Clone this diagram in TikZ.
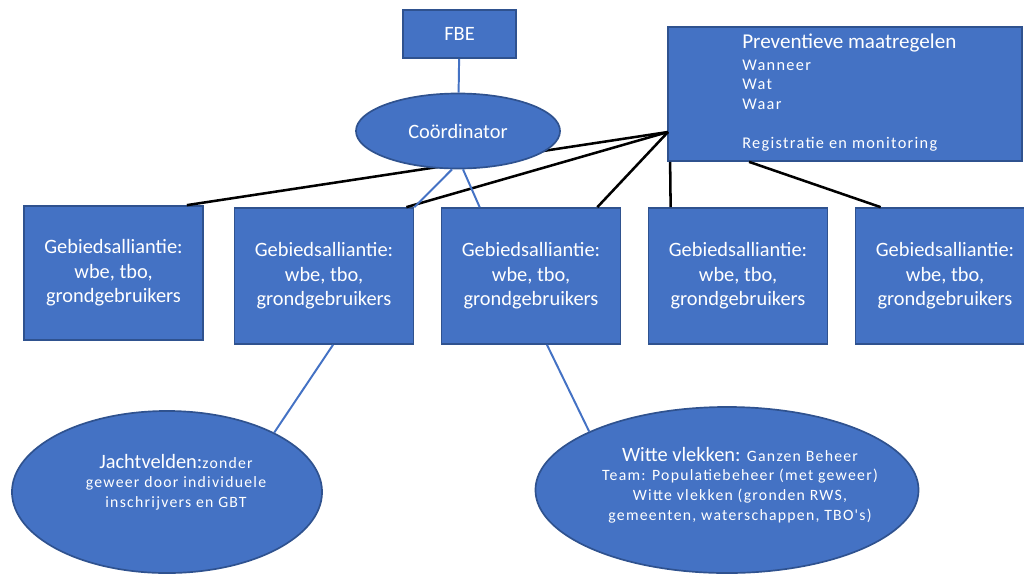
\documentclass[tikz,border=0pt]{standalone}
\usepackage{fontspec}
\setmainfont{Carlito}
\newfontfamily\spacedfont[LetterSpace=8]{Carlito}
\newcommand{\headfont}{\rmfamily\fontsize{14.5}{17}\selectfont}
\usetikzlibrary{calc,shapes.geometric}
\definecolor{officeblue}{HTML}{4472C4}
\definecolor{edgeblue}{HTML}{2F528F}
\tikzset{%
  % Specifications for style of nodes:
          base/.style = {draw=edgeblue, line width=1.2pt, fill=officeblue,
                         text=white, inner sep=0pt, align=center,
                         font=\fontsize{14.5}{17.5}\selectfont},
      alliance/.style = {base, rectangle, minimum width=4.475cm,
                         minimum height=3.4cm},
         board/.style = {base, rectangle},
         field/.style = {base, ellipse},
      txtsmall/.style = {text=white, align=center, inner sep=0pt,
                         font=\spacedfont\fontsize{11.2}{14}\selectfont},
  % Specifications for style of lines:
      blueline/.style = {draw=officeblue, line width=1.4pt},
     blackline/.style = {draw=black, line width=1.8pt},
}

\begin{document}
\begin{tikzpicture}[x=0.025cm, y=-0.025cm]
\useasboundingbox (0,0) rectangle (1024,574);

\node (Prev)      [board, minimum width=8.85cm, minimum height=3.35cm] at (845,94) {};
\node (PrevTxt)   [txtsmall, anchor=north west, align=left,
                   font=\spacedfont\fontsize{11.6}{14}\selectfont] at (742,34)
  {{\rmfamily\fontsize{15}{17}\selectfont Preventieve maatregelen}\\[1pt] Wanneer\\ Wat\\ Waar\\[14pt] Registratie en monitoring};

\node (G1)        [alliance, minimum height=3.35cm] at (113.5,273) {Gebiedsalliantie:\\ wbe, tbo,\\ grondgebruikers};
\node (G2)        [alliance] at (324,276) {Gebiedsalliantie:\\ wbe, tbo,\\ grondgebruikers};
\node (G3)        [alliance] at (531,276) {Gebiedsalliantie:\\ wbe, tbo,\\ grondgebruikers};
\node (G4)        [alliance] at (738,276) {Gebiedsalliantie:\\ wbe, tbo,\\ grondgebruikers};
\node (G5)        [alliance] at (945,276) {Gebiedsalliantie:\\ wbe, tbo,\\ grondgebruikers};

\node (Jacht)     [field, minimum width=7.75cm, minimum height=4.05cm] at (167,492) {};
\node (JachtTxt)  [txtsmall] at (176,482)
  {{\headfont Jachtvelden:}zonder\\ geweer door individuele\\ inschrijvers en GBT};

\node (Witte)     [field, minimum width=9.575cm, minimum height=4.15cm] at (727,490) {};
\node (WitteTxt)  [txtsmall] at (740,485)
  {{\headfont Witte vlekken:} Ganzen Beheer\\ Team: Populatiebeheer (met geweer)\\
   Witte vlekken (gronden RWS,\\ gemeenten, waterschappen, TBO's)};

\coordinate (hub) at (668,132);
\draw[blackline] (hub) -- ($(G1.north east)+(-17,0)$);
\draw[blackline] (hub) -- ($(G2.north east)+(-8,0)$);
\draw[blackline] (hub) -- ($(G3.north east)+(-24,0)$);
\draw[blackline] ($(Prev.south west)+(3,0)$) -- ($(G4.north west)+(23,0)$);
\draw[blackline] ($(Prev.south west)+(82,0)$) -- ($(G5.north west)+(26,0)$);

\node (FBE)       [board, minimum width=2.825cm, minimum height=1.2cm] at (459.5,34) {FBE};
\node (Coord)     [field, minimum width=5.1cm, minimum height=1.875cm] at (458,131) {Coördinator};

\draw[blueline] (FBE) -- (Coord);
\draw[blueline] ($(Coord.south)+(-6,0)$) -- (G2.north east);
\draw[blueline] ($(Coord.south)+(5,0)$) -- ($(G3.north west)+(39,0)$);
\draw[blueline] ($(G2.south)+(9,0)$) -- (Jacht.29);
\draw[blueline] ($(G3.south)+(16,0)$) -- (Witte.157);
\end{tikzpicture}
\end{document}
